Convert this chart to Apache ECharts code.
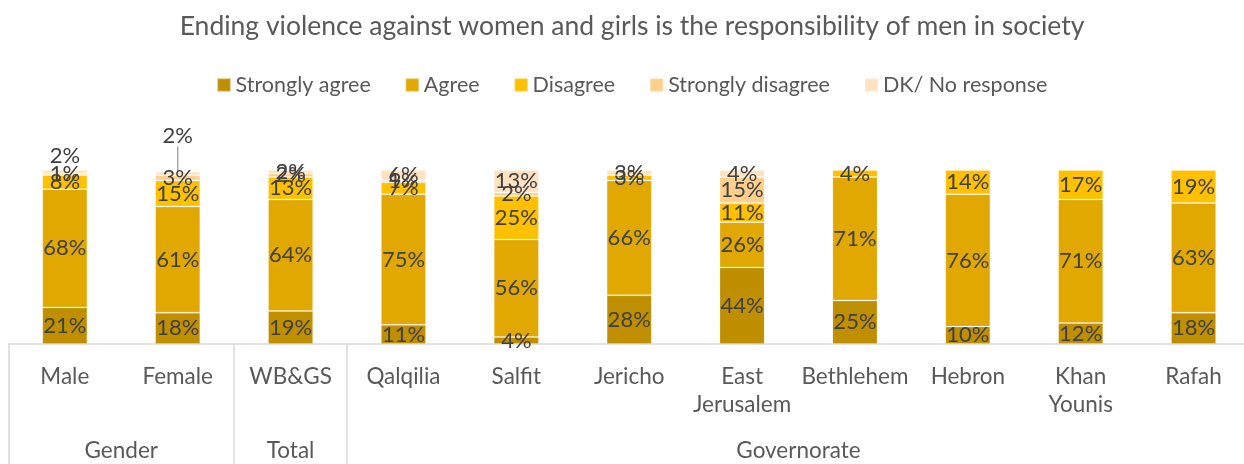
<!DOCTYPE html>
<html>
<head>
<meta charset="utf-8">
<script src="https://cdn.jsdelivr.net/npm/echarts@6/dist/echarts.min.js"></script>
<style>
  html, body { margin: 0; padding: 0; background: #fff; overflow: hidden; }
  #chart { width: 1264px; height: 464px; }
</style>
</head>
<body>
<div id="chart"></div>
<script>
// Survey answers per respondent group (percent of respondents)
const categories = ['Male', 'Female', 'WB&GS', 'Qalqilia', 'Salfit', 'Jericho',
  'East\nJerusalem', 'Bethlehem', 'Hebron', 'Khan\nYounis', 'Rafah'];
const stronglyAgree    = [21, 18, 19, 11, 4, 28, 44, 25, 10, 12, 18];
const agree            = [68, 61, 64, 75, 56, 66, 26, 71, 76, 71, 63];
const disagree         = [8, 15, 13, 7, 25, 3, 11, 4, 14, 17, 19];
const stronglyDisagree = [1, 3, 2, 1, 2, null, 15, null, null, null, null];
const noResponse       = [2, 2, 2, 6, 13, 3, 4, null, null, null, null];

// Category groups: name and span (number of categories)
const groupNames = ['Gender', 'Total', 'Governorate'];
const groupSizes = [2, 1, 8];

const seriesNames = ['Strongly agree', 'Agree', 'Disagree', 'Strongly disagree', 'DK/ No response'];
const seriesColors = ['#BF8F00', '#E0A800', '#FFC000', '#FFD08C', '#FFE2C2'];
const seriesValues = [stronglyAgree, agree, disagree, stronglyDisagree, noResponse];

const FONT = 'Lato';

// group boundaries and centres on a 0..N value scale
const bounds = [0];
groupSizes.forEach(s => bounds.push(bounds[bounds.length - 1] + s));
const centres = groupNames.map((_, i) => (bounds[i] + bounds[i + 1]) / 2);

const series = seriesNames.map((name, si) => ({
  name,
  type: 'bar',
  stack: 'total',
  barWidth: '40%',
  xAxisIndex: 0,
  yAxisIndex: 0,
  itemStyle: { color: seriesColors[si], borderColor: 'rgba(255,255,255,0.2)', borderWidth: 1 },
  label: {
    show: true,
    position: 'inside',
    color: '#404040',
    fontFamily: FONT,
    fontSize: 22,
    formatter: p => p.value == null ? '' : p.value + '%'
  },
  labelLine: { show: si === 4, lineStyle: { color: '#A6A6A6', width: 1.5 } },
  labelLayout: si === 4 ? function (params) {
    if (params.dataIndex === 0) return { dy: -16 };
    if (params.dataIndex === 1) return { dy: -38 };
    return {};
  } : undefined,
  data: seriesValues[si].map(v => v)
}));

const chart = echarts.init(document.getElementById('chart'));
chart.setOption({
  animation: false,
  title: {
    text: 'Ending violence against women and girls is the responsibility of men in society',
    left: 'center',
    top: 8,
    textStyle: { fontFamily: FONT, fontSize: 26.5, fontWeight: 'normal', color: '#595959' }
  },
  legend: {
    data: seriesNames,
    left: 'center',
    top: 69,
    itemWidth: 13,
    itemHeight: 13,
    itemGap: 34,
    icon: 'rect',
    textStyle: { fontFamily: FONT, fontSize: 21.5, color: '#595959', padding: [0, 0, 0, 0] }
  },
  grid: { left: 8.4, right: 14, top: 170, bottom: 120, containLabel: false },
  xAxis: [
    {
      type: 'category',
      data: categories,
      axisLine: { show: true, lineStyle: { color: '#D9D9D9', width: 1.5 } },
      axisTick: { show: false },
      axisLabel: {
        interval: 0,
        margin: 19,
        fontFamily: FONT,
        fontSize: 22.5,
        lineHeight: 28,
        color: '#595959'
      }
    },
    {
      type: 'value',
      position: 'bottom',
      min: 0,
      max: bounds[bounds.length - 1],
      splitLine: { show: false },
      axisLine: { show: false },
      axisTick: {
        show: true,
        length: 120,
        customValues: bounds,
        lineStyle: { color: '#D9D9D9', width: 1.5 }
      },
      axisLabel: {
        show: true,
        margin: 95,
        customValues: centres,
        fontFamily: FONT,
        fontSize: 22.5,
        color: '#595959',
        formatter: v => {
          const i = centres.indexOf(v);
          return i >= 0 ? groupNames[i] : '';
        }
      }
    }
  ],
  yAxis: {
    type: 'value',
    min: 0,
    max: 100,
    show: false,
    splitLine: { show: false }
  },
  series
});
</script>
</body>
</html>
